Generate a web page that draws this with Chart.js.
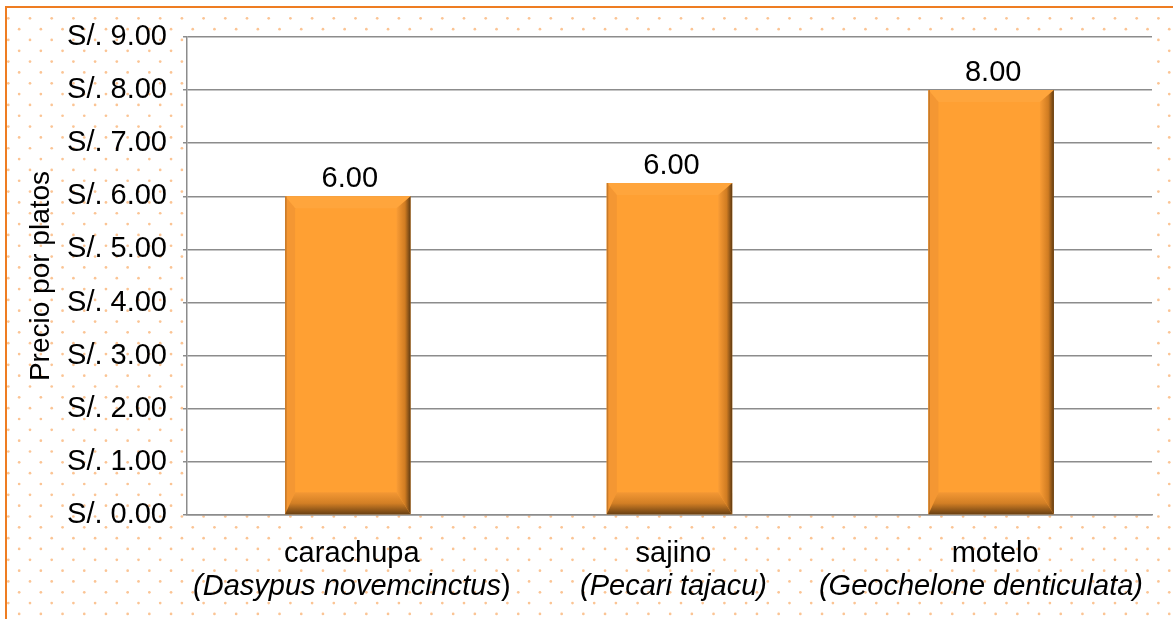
<!DOCTYPE html>
<html>
<head>
<meta charset="utf-8">
<script src="https://cdn.jsdelivr.net/npm/chart.js@4.4.1/dist/chart.umd.min.js"></script>
<style>
  html, body { margin: 0; padding: 0; background: #fff; }
  #wrap { width: 1173px; height: 619px; }
</style>
</head>
<body>
<div id="wrap"><canvas id="graficoPrecios" width="1173" height="619"></canvas></div>
<script>
// datos
const nombres = ['carachupa', 'sajino', 'motelo'];
// parte en cursiva, parte normal
const especies = [
  ['(Dasypus novemcinctus', ')'],
  ['(Pecari tajacu)', ''],
  ['(Geochelone denticulata)', '']
];
const precios = [6.0, 6.25, 8.0];
const etiquetasValor = ['6.00', '6.00', '8.00'];
const tituloEjeY = 'Precio por platos';

const FUENTE = '"Liberation Sans", Arial, sans-serif';
const TAM = 29;

// fondo punteado + marco naranja
const fondoPlugin = {
  id: 'fondo',
  beforeDraw(chart) {
    const ctx = chart.ctx;
    const a = chart.chartArea;
    ctx.save();
    ctx.fillStyle = '#ffffff';
    ctx.fillRect(0, 0, chart.width, chart.height);
    ctx.fillStyle = '#fbc494';
    let fila = 0;
    for (let y = 18.3; y < chart.height + 10; y += 10.83) {
      const off = (fila % 2) ? 10.85 : 0;
      for (let x = 8.3 + off; x < chart.width + 10; x += 21.7) {
        ctx.beginPath();
        ctx.arc(x, y, 1.35, 0, Math.PI * 2);
        ctx.fill();
      }
      fila++;
    }
    ctx.fillStyle = '#ffffff';
    ctx.fillRect(a.left, a.top, a.right - a.left, a.bottom - a.top);
    ctx.strokeStyle = '#ee7d22';
    ctx.lineWidth = 2;
    ctx.beginPath();
    ctx.moveTo(6, chart.height);
    ctx.lineTo(6, 7);
    ctx.lineTo(chart.width, 7);
    ctx.stroke();
    ctx.restore();
  }
};

// relieve de las barras (bisel)
const biselPlugin = {
  id: 'bisel',
  afterDatasetsDraw(chart) {
    const ctx = chart.ctx;
    const meta = chart.getDatasetMeta(0);
    ctx.save();
    meta.data.forEach(bar => {
      const l = bar.x - bar.width / 2, r = bar.x + bar.width / 2;
      const t = bar.y, b = bar.base;
      const bt = 12, br = 14, bb = 22, bl = 10;
      // arriba
      ctx.fillStyle = '#ffa53c';
      ctx.beginPath();
      ctx.moveTo(l, t); ctx.lineTo(r, t); ctx.lineTo(r - br, t + bt); ctx.lineTo(l + bl, t + bt);
      ctx.closePath(); ctx.fill();
      // izquierda
      ctx.fillStyle = '#f49733';
      ctx.beginPath();
      ctx.moveTo(l, t); ctx.lineTo(l + bl, t + bt); ctx.lineTo(l + bl, b - bb); ctx.lineTo(l, b);
      ctx.closePath(); ctx.fill();
      ctx.fillStyle = '#c77a2a';
      ctx.fillRect(l, t, 1.5, b - t);
      // derecha
      let g = ctx.createLinearGradient(r - br, 0, r, 0);
      g.addColorStop(0, '#f99c35');
      g.addColorStop(0.6, '#d07c22');
      g.addColorStop(1, '#5e3a12');
      ctx.fillStyle = g;
      ctx.beginPath();
      ctx.moveTo(r, t); ctx.lineTo(r, b); ctx.lineTo(r - br, b - bb); ctx.lineTo(r - br, t + bt);
      ctx.closePath(); ctx.fill();
      // abajo
      g = ctx.createLinearGradient(0, b - bb, 0, b);
      g.addColorStop(0, '#f49834');
      g.addColorStop(0.5, '#d27f25');
      g.addColorStop(1, '#6a4012');
      ctx.fillStyle = g;
      ctx.beginPath();
      ctx.moveTo(l, b); ctx.lineTo(r, b); ctx.lineTo(r - br, b - bb); ctx.lineTo(l + bl, b - bb);
      ctx.closePath(); ctx.fill();
    });
    ctx.restore();
  }
};

// etiquetas de valor y etiquetas del eje x (con cursiva)
const textosPlugin = {
  id: 'textos',
  afterDraw(chart) {
    const ctx = chart.ctx;
    const meta = chart.getDatasetMeta(0);
    const xs = chart.scales.x;
    const limiteDer = chart.width - 30;
    ctx.save();
    ctx.fillStyle = '#000';
    ctx.textAlign = 'center';
    ctx.textBaseline = 'alphabetic';
    ctx.font = TAM + 'px ' + FUENTE;
    meta.data.forEach((bar, i) => {
      ctx.fillText(etiquetasValor[i], bar.x + 2, bar.y - 9);
    });
    nombres.forEach((n, i) => {
      const cx = xs.getPixelForValue(i) + 4;
      ctx.textAlign = 'center';
      ctx.font = TAM + 'px ' + FUENTE;
      ctx.fillText(n, cx, 562);
      const [cur, norm] = especies[i];
      ctx.font = 'italic ' + TAM + 'px ' + FUENTE;
      const w1 = ctx.measureText(cur).width;
      ctx.font = TAM + 'px ' + FUENTE;
      const w2 = ctx.measureText(norm).width;
      let x0 = cx - (w1 + w2) / 2;
      if (x0 + w1 + w2 > limiteDer) x0 = limiteDer - w1 - w2;
      ctx.textAlign = 'left';
      ctx.font = 'italic ' + TAM + 'px ' + FUENTE;
      ctx.fillText(cur, x0, 595);
      ctx.font = TAM + 'px ' + FUENTE;
      ctx.fillText(norm, x0 + w1, 595);
    });
    ctx.restore();
  }
};

const ctx = document.getElementById('graficoPrecios').getContext('2d');
new Chart(ctx, {
  type: 'bar',
  data: {
    labels: nombres,
    datasets: [{
      data: precios,
      backgroundColor: '#ffa033',
      borderWidth: 0,
      categoryPercentage: 1,
      barPercentage: 0.39
    }]
  },
  options: {
    responsive: false,
    animation: false,
    devicePixelRatio: 1,
    layout: { padding: { left: 0, right: 21, top: 37, bottom: 0 } },
    plugins: {
      legend: { display: false },
      tooltip: { enabled: false }
    },
    scales: {
      x: {
        afterFit: s => { s.height = 104; },
        grid: { display: false },
        border: { display: true, color: '#8c8c8c', width: 1.5 },
        ticks: { display: false }
      },
      y: {
        min: 0,
        max: 9,
        afterFit: s => { s.width = 187; },
        ticks: {
          stepSize: 1,
          color: '#000',
          padding: 16,
          font: { family: FUENTE, size: TAM },
          callback: v => 'S/. ' + Number(v).toFixed(2)
        },
        grid: { color: '#8c8c8c', lineWidth: 1.5, tickLength: 4 },
        border: { color: '#8c8c8c', width: 1.5 },
        title: {
          display: true,
          text: tituloEjeY,
          color: '#000',
          font: { family: FUENTE, size: 28 },
          padding: { top: 24, bottom: 0 }
        }
      }
    }
  },
  plugins: [fondoPlugin, biselPlugin, textosPlugin]
});
</script>
</body>
</html>
